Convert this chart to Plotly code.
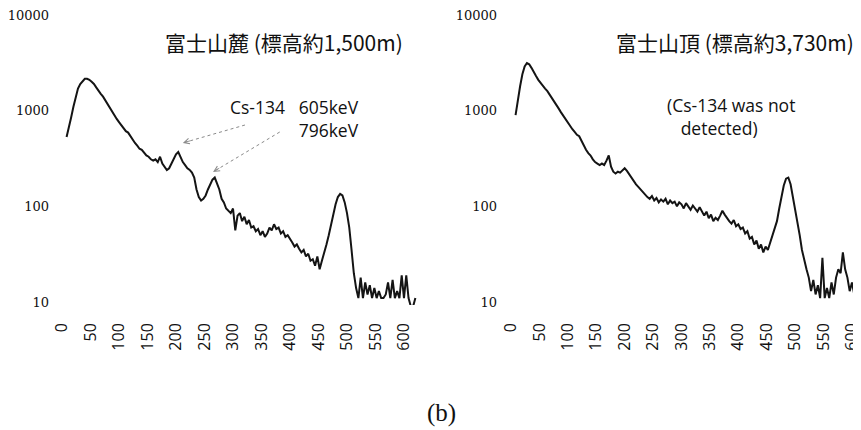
import plotly.graph_objects as go
import math

# ---------------- data ----------------
channels = list(range(8, 621, 4))

foot_counts = [
    530, 650, 850, 1100, 1400, 1700, 1900, 2050, 2150, 2150,
    2100, 2000, 1900, 1750, 1600, 1500, 1400, 1280, 1150, 1050,
    960, 900, 820, 760, 700, 650, 610, 590, 540, 490,
    460, 430, 400, 390, 360, 340, 330, 310, 300, 310,
    290, 330, 280, 260, 240, 250, 280, 310, 350, 370,
    330, 290, 270, 250, 240, 225, 200, 150, 125, 115,
    120, 130, 150, 170, 190, 200, 175, 150, 120, 110,
    95, 90, 85, 95, 56, 80, 85, 70, 78, 65,
    72, 60, 62, 55, 58, 50, 55, 48, 52, 60,
    56, 65, 58, 60, 52, 55, 48, 50, 45, 42,
    38, 40, 36, 33, 35, 30, 32, 27, 28, 24,
    30, 22, 27, 32, 40, 50, 65, 85, 105, 125,
    135, 130, 110, 85, 60, 35, 20, 14, 11, 18,
    11, 16, 12, 15, 11, 14, 11, 13, 11, 11,
    12, 16, 11, 17, 11, 13, 11, 19, 11, 19,
    11, 9, 9, 11,
]

summit_counts = [
    900, 1300, 1800, 2400, 2900, 3150, 3050, 2800, 2500, 2300,
    2100, 1950, 1800, 1700, 1600, 1480, 1350, 1250, 1150, 1050,
    960, 880, 830, 760, 700, 640, 600, 560, 540, 480,
    430, 390, 360, 340, 310, 290, 280, 270, 280, 270,
    300, 340, 260, 230, 220, 230, 225, 240, 250, 235,
    215, 200, 185, 170, 160, 150, 140, 130, 125, 120,
    128, 115, 122, 110, 118, 112, 120, 105, 115, 108,
    112, 100, 110, 105, 95, 108, 100, 92, 102, 96,
    88, 98, 90, 80, 88, 75, 82, 70, 76, 72,
    80, 90, 82, 75, 70, 66, 72, 62, 65, 58,
    60, 52, 55, 46, 48, 40, 44, 36, 40, 33,
    38, 35, 42, 48, 58, 70, 95, 130, 165, 195,
    200, 170, 125, 95, 72, 50, 35, 27, 22, 18,
    13, 17, 12, 15, 11, 29, 11, 14, 11, 16,
    12, 18, 22, 20, 33, 22, 18, 13, 16, 12,
    15, 11, 14, 12,
]

x_ticks = list(range(0, 601, 50))
y_ticks = [10, 100, 1000, 10000]
y_tick_labels = ["10", "100", "1000", "10000"]

title_a = "富士山麓 (標高約1,500m)"
title_b = "富士山頂 (標高約3,730m)"
note_a = "Cs-134\u00a0\u00a0\u00a0605keV<br>796keV"
note_b = "(Cs-134 was not<br>\u00a0\u00a0\u00a0detected)"

# ---------------- layout helpers ----------------
W, H = 861, 430
OFF = 8  # page body margin of the html page


def px(x):
    return (x - OFF) / W


def py(y):
    return 1 - (y - OFF) / H


line_col = "#141414"

fig = go.Figure()
fig.add_trace(go.Scatter(x=channels, y=foot_counts[:len(channels)], mode="lines",
                         line=dict(color=line_col, width=2),
                         xaxis="x", yaxis="y", showlegend=False, hoverinfo="skip"))
fig.add_trace(go.Scatter(x=channels, y=summit_counts[:len(channels)], mode="lines",
                         line=dict(color=line_col, width=2),
                         xaxis="x2", yaxis="y2", showlegend=False, hoverinfo="skip"))

# dotted pointer lines (data coords) for the Cs-134 peaks
pointer_605 = dict(x=[321, 212], y=[708, 460])
pointer_796 = dict(x=[382, 265], y=[598, 229])
for p in (pointer_605, pointer_796):
    fig.add_trace(go.Scatter(x=p["x"], y=p["y"], mode="lines",
                             line=dict(color="#8a8a8a", width=1, dash="dot"),
                             xaxis="x", yaxis="y", showlegend=False, hoverinfo="skip"))

tick_font_y = dict(family="DejaVu Serif", size=13, color="#111")
tick_font_x = dict(family="Open Sans", size=16, color="#111")

y_range = [0.969, 4.052]

common_x = dict(tickmode="array", tickvals=x_ticks, ticktext=[str(v) for v in x_ticks],
                tickangle=-90, showgrid=False, zeroline=False, showline=False,
                ticks="", tickfont=tick_font_x, ticklabelstandoff=14,
                automargin=False, ticklabeloverflow="allow")
common_y = dict(type="log", tickmode="array", tickvals=y_ticks, ticktext=y_tick_labels,
                showgrid=False, zeroline=False, showline=False, ticks="",
                tickfont=tick_font_y, range=y_range, ticklabelstandoff=5,
                automargin=False, ticklabeloverflow="allow")

fig.update_layout(
    width=W, height=H,
    margin=dict(l=0, r=0, t=0, b=0, autoexpand=False),
    paper_bgcolor="white", plot_bgcolor="white",
    xaxis=dict(domain=[px(55), px(420)], range=[-12.3, 628.1], anchor="y", **common_x),
    yaxis=dict(domain=[py(305), py(10)], anchor="x", **common_y),
    xaxis2=dict(domain=[px(503), px(861)], range=[-14.1, 615.9], anchor="y2", **common_x),
    yaxis2=dict(domain=[py(305), py(10)], anchor="x2", **common_y),
)

ann = []
title_font = dict(family="Noto Sans CJK JP", size=21, color="#111")
ann.append(dict(text=title_a, x=px(284), y=py(42), xref="paper", yref="paper",
                xanchor="center", yanchor="middle", showarrow=False, font=title_font))
ann.append(dict(text=title_b, x=px(735), y=py(42), xref="paper", yref="paper",
                xanchor="center", yanchor="middle", showarrow=False, font=title_font))

note_font = dict(family="Open Sans", size=17.5, color="#111")
ann.append(dict(text=note_a, x=px(361), y=py(118), xref="paper", yref="paper",
                xanchor="right", yanchor="middle", align="right", showarrow=False,
                font=note_font))
ann.append(dict(text=note_b, x=px(665), y=py(116), xref="paper", yref="paper",
                xanchor="left", yanchor="middle", align="left", showarrow=False,
                font=note_font))

# arrowheads at the peak ends of the pointers
for p in (pointer_605, pointer_796):
    hx, hy = p["x"][1], p["y"][1]
    tx, ty = p["x"][0], p["y"][0]
    dxp = (tx - hx) * 0.57
    dyp = -(math.log10(ty) - math.log10(hy)) * 95.67
    n = math.hypot(dxp, dyp)
    ann.append(dict(text="", x=hx, y=math.log10(hy), xref="x", yref="y",
                    ax=dxp / n * 9, ay=dyp / n * 9, showarrow=True,
                    arrowhead=5, arrowsize=1.2, arrowwidth=0.9, arrowcolor="#8a8a8a",
                    standoff=0, startstandoff=0))

label_font = dict(family="Liberation Serif", size=25, color="#111")
ann.append(dict(text="(a)", x=px(10), y=py(413), xref="paper", yref="paper",
                xanchor="right", yanchor="middle", showarrow=False, font=label_font))
ann.append(dict(text="(b)", x=px(425), y=py(413), xref="paper", yref="paper",
                xanchor="left", yanchor="middle", showarrow=False, font=label_font))

fig.update_layout(annotations=ann)
fig.write_html("out.html")
